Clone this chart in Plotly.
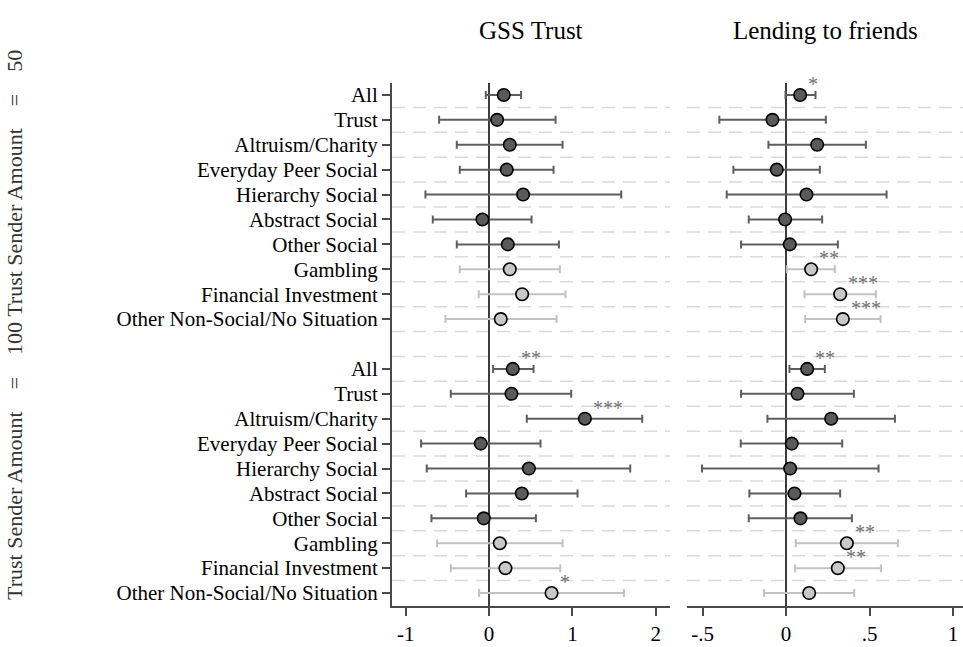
import plotly.graph_objects as go

labels = ["All", "Trust", "Altruism/Charity", "Everyday Peer Social", "Hierarchy Social",
          "Abstract Social", "Other Social", "Gambling", "Financial Investment",
          "Other Non-Social/No Situation"]
social = [True, True, True, True, True, True, True, False, False, False]

# GSS Trust, sender amount = 50
gss50_est = [0.176, 0.096, 0.248, 0.212, 0.408, -0.080, 0.224, 0.248, 0.396, 0.140]
gss50_lo = [-0.040, -0.600, -0.388, -0.352, -0.764, -0.676, -0.388, -0.352, -0.124, -0.524]
gss50_hi = [0.384, 0.797, 0.881, 0.773, 1.585, 0.509, 0.837, 0.849, 0.917, 0.809]
gss50_stars = ["", "", "", "", "", "", "", "", "", ""]

# GSS Trust, sender amount = 100
gss100_est = [0.284, 0.268, 1.149, -0.100, 0.477, 0.392, -0.064, 0.128, 0.196, 0.749]
gss100_lo = [0.048, -0.460, 0.452, -0.816, -0.748, -0.276, -0.692, -0.624, -0.460, -0.120]
gss100_hi = [0.533, 0.985, 1.837, 0.617, 1.693, 1.061, 0.561, 0.881, 0.853, 1.617]
gss100_stars = ["**", "", "***", "", "", "", "", "", "", "*"]

# Lending to friends, sender amount = 50
lend50_est = [0.084, -0.082, 0.186, -0.056, 0.122, -0.006, 0.022, 0.150, 0.324, 0.340]
lend50_lo = [-0.004, -0.400, -0.106, -0.316, -0.356, -0.224, -0.270, 0.004, 0.110, 0.114]
lend50_hi = [0.176, 0.238, 0.478, 0.202, 0.602, 0.216, 0.310, 0.292, 0.538, 0.566]
lend50_stars = ["*", "", "", "", "", "", "", "**", "***", "***"]

# Lending to friends, sender amount = 100
lend100_est = [0.126, 0.068, 0.270, 0.034, 0.024, 0.050, 0.086, 0.364, 0.310, 0.138]
lend100_lo = [0.020, -0.270, -0.112, -0.272, -0.504, -0.220, -0.224, 0.058, 0.054, -0.132]
lend100_hi = [0.232, 0.406, 0.652, 0.336, 0.554, 0.324, 0.394, 0.670, 0.568, 0.408]
lend100_stars = ["**", "", "", "", "", "", "", "**", "**", ""]

panel_titles = ["GSS Trust", "Lending to friends"]
y_title = "Trust Sender Amount\u2003=\u2003100 Trust Sender Amount\u2003=\u200350"
x1_ticks = [-1, 0, 1, 2]
x1_ticktext = ["-1", "0", "1", "2"]
x2_ticks = [-0.5, 0, 0.5, 1]
x2_ticktext = ["-.5", "0", ".5", "1"]

FONT = "Liberation Serif"
DARK_FILL = "#5a5a5a"
DARK_LINE = "#5e5e5e"
LIGHT_FILL = "#c8c8c8"
LIGHT_LINE = "#c2c2c2"
AXIS = "#4a4a4a"

n = len(labels)
pos50 = list(range(1, n + 1))
pos100 = list(range(n + 2, 2 * n + 2))
all_pos = pos50 + pos100
all_labels = labels + labels
soc_all = social + social

fig = go.Figure()

panels = [
    ("x", gss50_est + gss100_est, gss50_lo + gss100_lo, gss50_hi + gss100_hi, gss50_stars + gss100_stars),
    ("x2", lend50_est + lend100_est, lend50_lo + lend100_lo, lend50_hi + lend100_hi, lend50_stars + lend100_stars),
]

annotations = []
for xa, est, lo, hi, stars in panels:
    for is_soc, fill, lcol in [(True, DARK_FILL, DARK_LINE), (False, LIGHT_FILL, LIGHT_LINE)]:
        idx = [i for i in range(len(est)) if soc_all[i] == is_soc]
        fig.add_trace(go.Scatter(
            x=[est[i] for i in idx],
            y=[all_pos[i] for i in idx],
            xaxis=xa, yaxis="y", mode="markers",
            marker=dict(size=12.5, color=fill, line=dict(color="black", width=1.6)),
            error_x=dict(type="data", symmetric=False,
                         array=[hi[i] - est[i] for i in idx],
                         arrayminus=[est[i] - lo[i] for i in idx],
                         color=lcol, thickness=2, width=4),
            showlegend=False, hoverinfo="skip"))
    for i in range(len(est)):
        if stars[i]:
            annotations.append(dict(
                x=est[i], y=all_pos[i], xref=xa, yref="y", text=stars[i],
                showarrow=False, xanchor="left", yanchor="middle",
                xshift=6, yshift=11,
                font=dict(family=FONT, size=20, color="#707070")))

# dashed separators between rows
shapes = []
for xd in ["x domain", "x2 domain"]:
    for k in range(1, 2 * n + 1):
        shapes.append(dict(type="line", xref=xd, yref="y", x0=0, x1=1,
                           y0=k + 0.5, y1=k + 0.5, layer="below",
                           line=dict(color="#dadada", width=1.5, dash="13px,8px")))

W, H = 963, 647
L, T, R = 392, 83, 0
B = H - 606
pw = W - L - R
ph = H - T - B
d1 = [0, (670 - L) / pw]
d2 = [(687 - L) / pw, 1]

for title, dom in zip(panel_titles, [d1, d2]):
    annotations.append(dict(
        x=(dom[0] + dom[1]) / 2, y=1 + (T - 30) / ph,
        xref="paper", yref="paper", text=title, showarrow=False,
        xanchor="center", yanchor="middle",
        font=dict(family=FONT, size=25, color="black")))

annotations.append(dict(
    x=(14 - L) / pw, y=(H - B - 325) / ph, xref="paper", yref="paper",
    text=y_title, showarrow=False, textangle=-90,
    xanchor="center", yanchor="middle",
    font=dict(family=FONT, size=22, color="#333333")))

tickfont = dict(family=FONT, size=21, color="black")
fig.update_layout(
    width=W, height=H,
    margin=dict(l=L, r=R, t=T, b=B, pad=0),
    paper_bgcolor="white", plot_bgcolor="white",
    font=dict(family=FONT, size=21, color="black"),
    shapes=shapes, annotations=annotations,
    xaxis=dict(domain=d1, range=[-1.165, 2.17], tickvals=x1_ticks, ticktext=x1_ticktext,
               showgrid=False, zeroline=True, zerolinecolor="#3c3c3c", zerolinewidth=2,
               showline=True, linecolor=AXIS, linewidth=2,
               ticks="outside", ticklen=8, tickwidth=1.5, tickcolor=AXIS, tickfont=tickfont),
    xaxis2=dict(domain=d2, range=[-0.594, 1.06], tickvals=x2_ticks, ticktext=x2_ticktext,
                showgrid=False, zeroline=True, zerolinecolor="#3c3c3c", zerolinewidth=2,
                showline=True, linecolor=AXIS, linewidth=2,
                ticks="outside", ticklen=8, tickwidth=1.5, tickcolor=AXIS, tickfont=tickfont,
                anchor="y"),
    yaxis=dict(range=[2 * n + 1.52, 0.52], tickvals=all_pos, ticktext=all_labels,
               showgrid=False, zeroline=False, showline=True, linecolor=AXIS, linewidth=2,
               ticks="outside", ticklen=8, tickwidth=1.5, tickcolor=AXIS, tickfont=tickfont),
)

fig.write_html("out.html", config={"displayModeBar": False},
               post_script="document.body.style.margin='0px';document.body.style.padding='0px';")
